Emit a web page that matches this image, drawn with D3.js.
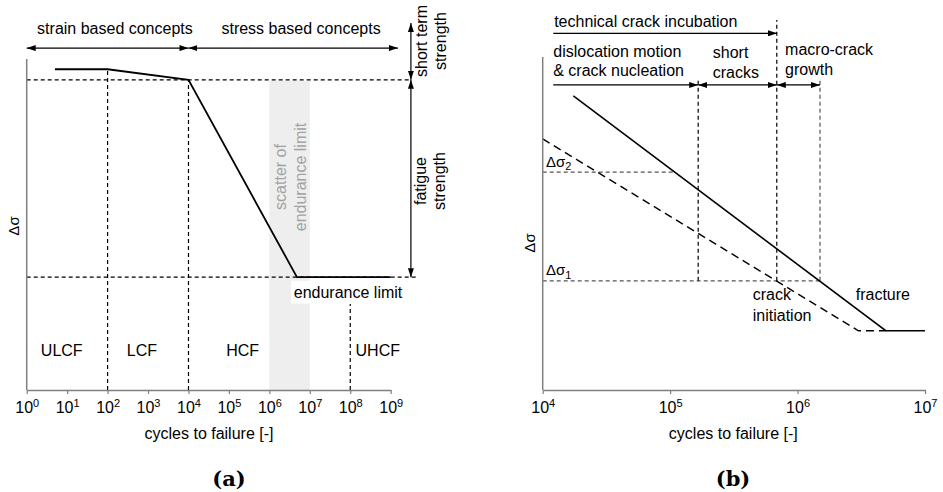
<!DOCTYPE html>
<html><head><meta charset="utf-8">
<script src="https://cdn.jsdelivr.net/npm/d3@7"></script>
<style>
body{margin:0;background:#fff;}
svg{display:block;font-family:"Liberation Sans",Arial,sans-serif;}
</style></head>
<body><svg id="c" width="943" height="492"></svg>
<script>
// ---------------- DATA: panel (a) ----------------
const ticksA = [1e0,1e1,1e2,1e3,1e4,1e5,1e6,1e7,1e8,1e9];
const curveA = [[5,96.9],[1e2,96.9],[1e4,93.7],[4.8e6,34.1],[1e9,34.1]];
const bandA = {x0:1e6, x1:1e7, v0:0, v1:93.4};
const hDashA = [{x0:1,x1:2.82e9,v:93.7},{x0:1,x1:4.47e9,v:34.1}];
const vDashA = [{x:1e2,v0:0,v1:96.9},{x:1e4,v0:0,v1:93.7},{x:1e8,v0:0,v1:26}];
const regionsA = [{t:"ULCF",x:7.35},{t:"LCF",x:708},{t:"HCF",x:2.19e5},{t:"UHCF",x:4.79e8}];
const regionV = 10.2;
const hArrowsA = [{x0:1,x1:1e4,v:103.3,t:"strain based concepts",tx:152},
                  {x0:1e4,x1:1.51e9,v:103.3,t:"stress based concepts",tx:6.07e6}];
const vArrowsA = [{x:3.16e9,v0:110.9,v1:93.7},{x:3.16e9,v0:93.7,v1:34.1}];

// ---------------- DATA: panel (b) ----------------
const ticksB = [1e4,1e5,1e6,1e7];
const fractureB = [[1.74e4,88.3],[4.92e6,17.8],[1e7,17.8]];
const initiationB = [[1e4,75.4],[3.0e6,17.8],[4.92e6,17.8]];
const levelsB = [{name:"2",v:65.4,x1:1.09e5},{name:"1",v:32.8,x1:1.48e6}];
const vDashB = [{x:1.66e5,v0:32.8,v1:93.1,c:"#000"},{x:6.87e5,v0:32.8,v1:111.1,c:"#000"},{x:1.5e6,v0:32.8,v1:93.7,c:"#555"}];
const arrowsB = [{x0:1.21e4,x1:6.9e5,v:107.1,start:false},
                 {x0:1.21e4,x1:1.66e5,v:91.6,start:false},
                 {x0:1.66e5,x1:6.87e5,v:91.6,start:true},
                 {x0:6.87e5,x1:1.5e6,v:91.6,start:true}];
const labelsB = [
  {lines:["technical crack incubation"],x:1.23e4,v:[109.1]},
  {lines:["dislocation motion","& crack nucleation"],x:1.21e4,v:[99.9,94.3]},
  {lines:["short","cracks"],x:2.16e5,v:[99.6,93.8]},
  {lines:["macro-crack","growth"],x:7.98e5,v:[100.6,94.6]},
  {lines:["crack","initiation"],x:4.45e5,v:[26.9,20.8]},
  {lines:["fracture"],x:2.86e6,v:[27.0]}
];

// ---------------- drawing ----------------
const svg = d3.select("#c");
const defs = svg.append("defs");
defs.append("marker").attr("id","ah").attr("viewBox","0 0 9 6")
  .attr("refX",9).attr("refY",3).attr("markerWidth",9).attr("markerHeight",6)
  .attr("markerUnits","userSpaceOnUse").attr("orient","auto-start-reverse")
  .append("path").attr("d","M0,0L9,3L0,6Z").attr("fill","#000");

const AX = "#808080";
const DASH = "4,3";
const DW = 1.2;

// scales
const xA = d3.scaleLog().domain([1,1e9]).range([26.7,390.7]);
const yA = d3.scaleLinear().domain([0,100]).range([390,59]);
const xB = d3.scaleLog().domain([1e4,1e7]).range([542.7,925]);
const yB = d3.scaleLinear().domain([0,100]).range([390,57]);

function drawAxis(g, x, y, ticks, yTop){
  const ax = d3.axisBottom(x).tickValues(ticks).tickSize(4).tickSizeOuter(0).tickFormat("");
  const ga = g.append("g").attr("transform",`translate(0,${y(0)})`).call(ax);
  ga.select(".domain").attr("stroke",AX).attr("stroke-width",1.5);
  ga.selectAll(".tick line").attr("stroke",AX).attr("stroke-width",1.2);
  ga.selectAll(".tick").append("text")
    .attr("y",22.5).attr("fill","#000").attr("text-anchor","middle")
    .style("font-size","16px").style("font-family","'Liberation Sans',Arial,sans-serif")
    .each(function(d){
      const t=d3.select(this);
      t.append("tspan").text("10");
      t.append("tspan").attr("dy",-6).style("font-size","11px").text(Math.round(Math.log10(d)));
    });
  g.append("line").attr("x1",x.range()[0]).attr("x2",x.range()[0])
    .attr("y1",y(0)).attr("y2",yTop).attr("stroke",AX).attr("stroke-width",1.5);
}

// ===== Panel (a) =====
const gA = svg.append("g");
gA.append("rect").attr("x",xA(bandA.x0)).attr("width",xA(bandA.x1)-xA(bandA.x0))
  .attr("y",yA(bandA.v1)).attr("height",yA(bandA.v0)-yA(bandA.v1)).attr("fill","#eeeeee");

gA.selectAll(".hd").data(hDashA).join("line")
  .attr("x1",d=>xA(d.x0)).attr("x2",d=>xA(d.x1)).attr("y1",d=>yA(d.v)).attr("y2",d=>yA(d.v))
  .attr("stroke","#000").attr("stroke-width",DW).attr("stroke-dasharray",DASH);
gA.selectAll(".vd").data(vDashA).join("line")
  .attr("x1",d=>xA(d.x)).attr("x2",d=>xA(d.x)).attr("y1",d=>yA(d.v0)).attr("y2",d=>yA(d.v1))
  .attr("stroke","#000").attr("stroke-width",DW).attr("stroke-dasharray",DASH);

// scatter text
const scat = [["scatter of",285.5],["endurance limit",306]];
scat.forEach(([t,bx])=>{
  gA.append("text").attr("transform",`translate(${bx},177) rotate(-90)`)
    .attr("text-anchor","middle").attr("fill","#a3a3a3").style("font-size","16px").text(t);
});

gA.append("path").datum(curveA)
  .attr("d",d3.line().x(d=>xA(d[0])).y(d=>yA(d[1])))
  .attr("fill","none").attr("stroke","#000").attr("stroke-width",1.8);

drawAxis(gA,xA,yA,ticksA,59);

// endurance limit label with white background
const elx = xA(8.81e7), ely = yA(27.9);
gA.append("rect").attr("x",elx-57).attr("y",ely-17).attr("width",114).attr("height",23).attr("fill","#fff");
gA.append("text").attr("x",elx).attr("y",ely).attr("text-anchor","middle").style("font-size","16px").text("endurance limit");

gA.selectAll(".rg").data(regionsA).join("text")
  .attr("x",d=>xA(d.x)).attr("y",yA(regionV)).attr("text-anchor","middle")
  .style("font-size","16px").text(d=>d.t);

gA.selectAll(".ha").data(hArrowsA).join("line")
  .attr("x1",d=>xA(d.x0)).attr("x2",d=>xA(d.x1)).attr("y1",d=>yA(d.v)).attr("y2",d=>yA(d.v))
  .attr("stroke","#000").attr("stroke-width",1.2)
  .attr("marker-start","url(#ah)").attr("marker-end","url(#ah)");
gA.selectAll(".hat").data(hArrowsA).join("text")
  .attr("x",d=>xA(d.tx)).attr("y",34).attr("text-anchor","middle").style("font-size","16px").text(d=>d.t);

gA.selectAll(".va").data(vArrowsA).join("line")
  .attr("x1",d=>xA(d.x)).attr("x2",d=>xA(d.x)).attr("y1",d=>yA(d.v0)).attr("y2",d=>yA(d.v1))
  .attr("stroke","#000").attr("stroke-width",1.2)
  .attr("marker-start","url(#ah)").attr("marker-end","url(#ah)");

const sideLabels = [
  {cy:41, lines:[["short term",427],["strength",446]]},
  {cy:181, lines:[["fatigue",426],["strength",445]]}
];
sideLabels.forEach(s=>{
  s.lines.forEach(([t,bx])=>{
    gA.append("text").attr("transform",`translate(${bx},${s.cy}) rotate(-90)`)
      .attr("text-anchor","middle").style("font-size","16px").text(t);
  });
});

gA.append("text").attr("transform","translate(18.5,226) rotate(-90)").attr("text-anchor","middle")
  .style("font-size","15px").text("Δσ");
gA.append("text").attr("x",209).attr("y",438.5).attr("text-anchor","middle").style("font-size","16px").text("cycles to failure [-]");
gA.append("text").attr("x",229).attr("y",486).attr("text-anchor","middle")
  .style("font-family","'DejaVu Serif',serif").style("font-weight","bold").style("font-size","21px").text("(a)");

// ===== Panel (b) =====
const gB = svg.append("g");
gB.selectAll(".lv").data(levelsB).join("line")
  .attr("x1",xB(1e4)).attr("x2",d=>xB(d.x1)).attr("y1",d=>yB(d.v)).attr("y2",d=>yB(d.v))
  .attr("stroke","#555").attr("stroke-width",DW).attr("stroke-dasharray",DASH);
gB.selectAll(".vdb").data(vDashB).join("line")
  .attr("x1",d=>xB(d.x)).attr("x2",d=>xB(d.x)).attr("y1",d=>yB(d.v0)).attr("y2",d=>yB(d.v1))
  .attr("stroke",d=>d.c).attr("stroke-width",DW).attr("stroke-dasharray",DASH);

const lineB = d3.line().x(d=>xB(d[0])).y(d=>yB(d[1]));
gB.append("path").datum(initiationB).attr("d",lineB).attr("fill","none")
  .attr("stroke","#000").attr("stroke-width",1.4).attr("stroke-dasharray","8,5");
gB.append("path").datum(fractureB).attr("d",lineB).attr("fill","none")
  .attr("stroke","#000").attr("stroke-width",1.6);

drawAxis(gB,xB,yB,ticksB,57);

gB.selectAll(".ab").data(arrowsB).join("line")
  .attr("x1",d=>xB(d.x0)).attr("x2",d=>xB(d.x1)).attr("y1",d=>yB(d.v)).attr("y2",d=>yB(d.v))
  .attr("stroke","#000").attr("stroke-width",1.2)
  .attr("marker-start",d=>d.start?"url(#ah)":null).attr("marker-end","url(#ah)");

labelsB.forEach(l=>{
  l.lines.forEach((t,i)=>{
    gB.append("text").attr("x",xB(l.x)).attr("y",yB(l.v[i])).style("font-size","16px").text(t);
  });
});

levelsB.forEach((d,i)=>{
  const t = gB.append("text").attr("x",xB(1.06e4)).attr("y",yB(d.v)-5.5).style("font-size","15px");
  t.append("tspan").text("Δσ");
  t.append("tspan").attr("dy",3.5).style("font-size","11px").text(d.name);
});

gB.append("text").attr("transform","translate(535,243) rotate(-90)").attr("text-anchor","middle")
  .style("font-size","15px").text("Δσ");
gB.append("text").attr("x",733.3).attr("y",438.5).attr("text-anchor","middle").style("font-size","16px").text("cycles to failure [-]");
gB.append("text").attr("x",733).attr("y",486).attr("text-anchor","middle")
  .style("font-family","'DejaVu Serif',serif").style("font-weight","bold").style("font-size","21px").text("(b)");
</script></body></html>
